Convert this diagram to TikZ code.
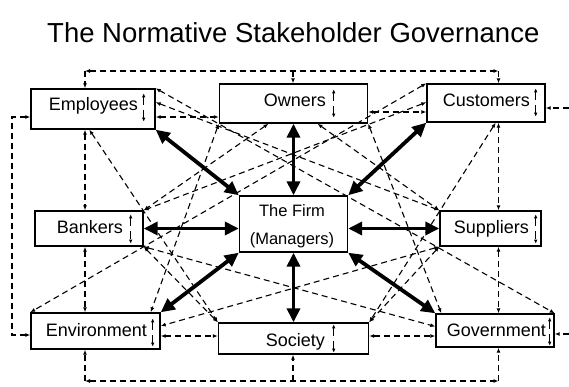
\documentclass[tikz,border=0pt]{standalone}
\usepackage{fontspec}
\setmainfont{Liberation Sans}
\usetikzlibrary{arrows.meta,calc}
\begin{document}
\begin{tikzpicture}[x=1pt,y=-1pt,
  box/.style 2 args={draw,line width=1.4pt,fill=white,inner sep=0pt,minimum width=#1,minimum height=#2},
  lab/.style={font=\fontsize{18}{18}\selectfont,inner sep=0pt,anchor=base east},
  flab/.style={font=\fontsize{16.5}{16.5}\selectfont,inner sep=0pt,anchor=base},
  dl/.style={line width=1.1pt,dash pattern=on 6pt off 4pt,{Latex[length=5pt,width=4pt]}-{Latex[length=5pt,width=4pt]}},
  dlo/.style={line width=1.1pt,dash pattern=on 6pt off 4pt,-{Latex[length=5pt,width=4pt]}},
  tk/.style={line width=3.8pt,{Triangle[length=14pt,width=13pt]}-{Triangle[length=14pt,width=13pt]}},
  updown/.style={line width=1pt,dash pattern=on 8pt off 5pt,{Latex[length=4pt,width=3.5pt]}-{Latex[length=4pt,width=3.5pt]}}
]
\fill[white] (0,0) rectangle (569,387);
\useasboundingbox (0,0) rectangle (569,387);

\node[font=\fontsize{27.5}{27.5}\selectfont,anchor=base west,inner sep=0pt] (title) at (47,43) {The Normative Stakeholder Governance};

% boxes
\node[box={124pt}{40pt}] (emp) at (93,109) {};
\node[box={148pt}{39pt}] (own) at (293.5,103.5) {};
\node[box={118pt}{38pt}] (cus) at (486,103) {};
\node[box={108pt}{35pt}] (ban) at (89,228.5) {};
\node[box={108pt}{56pt}] (firm) at (293.5,224) {};
\node[box={101pt}{35pt}] (sup) at (490.5,228.5) {};
\node[box={129pt}{36pt}] (env) at (95.5,331) {};
\node[box={150pt}{31pt}] (soc) at (293.5,338.5) {};
\node[box={118pt}{33pt}] (gov) at (495,330.5) {};

% labels
\node[lab] (empL) at (138,111) {Employees};
\node[lab] (ownL) at (326,107) {Owners};
\node[lab] (cusL) at (530,107) {Customers};
\node[lab] (banL) at (123,233) {Bankers};
\node[lab] (envL) at (147,336) {Environment};
\node[lab] (socL) at (325,346) {Society};
\node[lab] (supL) at (529,233) {Suppliers};
\node[lab] (govL) at (546,336) {Government};
\node[flab] (f1) at (292,216) {The Firm};
\node[flab] (f2) at (292,244) {(Managers)};

% inner up/down markers
\foreach \n/\dx/\t/\b in {emp/-12/5/8, own/-34.5/6/6, cus/-10/5/6, ban/-13/4/3, env/-8/6/3, soc/-35.5/2/2, sup/-6/4/3, gov/-5/4/2}
  \draw[updown] ($(\n.north east)+(\dx,\t)$) -- ($(\n.south east)+(\dx,-\b)$);

% helper coordinates
\coordinate (cL) at (85,0);
\coordinate (cR) at (498.5,0);
\coordinate (tl) at (85,71);
\coordinate (tr) at (498.5,71);
\coordinate (tm) at (293,71);
\coordinate (bl) at (85,381);
\coordinate (br) at (498.5,381);
\coordinate (bm) at (293,381);
\coordinate (ll1) at (12,117);
\coordinate (ll2) at (12,335);
\coordinate (re1) at (569,108);
\coordinate (re2) at (569,334);

% top loop
\draw[dl] (tl) -- (tr);
\draw[dlo] (tl) -- (emp.north -| tl);
\draw[dlo] (tr) -- (cus.north -| tr);
\draw[dlo] (tm) -- (own.north -| tm);
% bottom loop
\draw[dl] (bl) -- (br);
\draw[dlo] (bl) -- (env.south -| bl);
\draw[dlo] (br) -- (gov.south -| br);
\draw[dlo] (bm) -- (soc.south -| bm);
% left loop
\coordinate (le1) at ($(emp.west)+(0,8)$);
\coordinate (le2) at ($(env.west)+(0,4)$);
\draw[dl] (le1) -- (ll1) -- (ll2) -- (le2);
% right edge
\draw[dlo] (re1) -- (re1 -| cus.east);
\draw[dlo] (re2) -- (re2 -| gov.east);

% vertical columns
\draw[dl] (emp.south -| cL) -- (ban.north -| cL);
\draw[dl] (ban.south -| cL) -- (env.north -| cL);
\draw[dl] (cus.south -| cR) -- (sup.north -| cR);
\draw[dl] (sup.south -| cR) -- (gov.north -| cR);

% horizontals
\coordinate (h1) at ($(emp.east)+(0,8)$);
\draw[dl] (h1) -- (h1 -| own.west);
\coordinate (h2) at ($(own.east)+(0,8.5)$);
\draw[dl] (h2) -- (h2 -| cus.west);
\coordinate (h3) at ($(env.east)+(0,5)$);
\draw[dl] (h3) -- (h3 -| soc.west);
\coordinate (h4) at ($(soc.east)+(0,-2.5)$);
\draw[dl] (h4) -- (h4 -| gov.west);

% diagonals
\draw[dl] (emp.north east) -- (gov.north east);
\draw[dl] ($(emp.north east)+(0,14)$) -- (sup.north west);
\draw[dl] ($(emp.south west)+(59,0)$) -- (soc.north west);
\draw[dl] (cus.north west) -- (env.north west);
\draw[dl] ($(cus.north west)+(0,19)$) -- (ban.north east);
\draw[dl] ($(cus.south east)+(-50,0)$) -- (soc.north east);
\draw[dl] (own.south west) -- ($(env.north east)+(-10,0)$);
\draw[dl] (own.south east) -- ($(gov.north west)+(6,0)$);
\draw[dl] ($(own.south)+(-25,0)$) -- (ban.north east);
\draw[dl] ($(own.south)+(24,0)$) -- (sup.north west);
\draw[dl] (ban.south east) -- ($(gov.west)+(0,-4)$);
\draw[dl] (sup.south west) -- ($(env.east)+(0,-5)$);
\draw[dl] (ban.south east) -- (soc.north west);
\draw[dl] (sup.south west) -- (soc.north east);

% thick arrows
\draw[tk] (emp.south east) -- (firm.north west);
\draw[tk] (own.south) -- (firm.north);
\draw[tk] (cus.south west) -- (firm.north east);
\draw[tk] (ban.east) -- (ban.east -| firm.west);
\draw[tk] (sup.west) -- (sup.west -| firm.east);
\draw[tk] (env.north east) -- (firm.south west);
\draw[tk] (soc.north) -- (firm.south);
\draw[tk] (gov.north west) -- (firm.south east);
\end{tikzpicture}
\end{document}
